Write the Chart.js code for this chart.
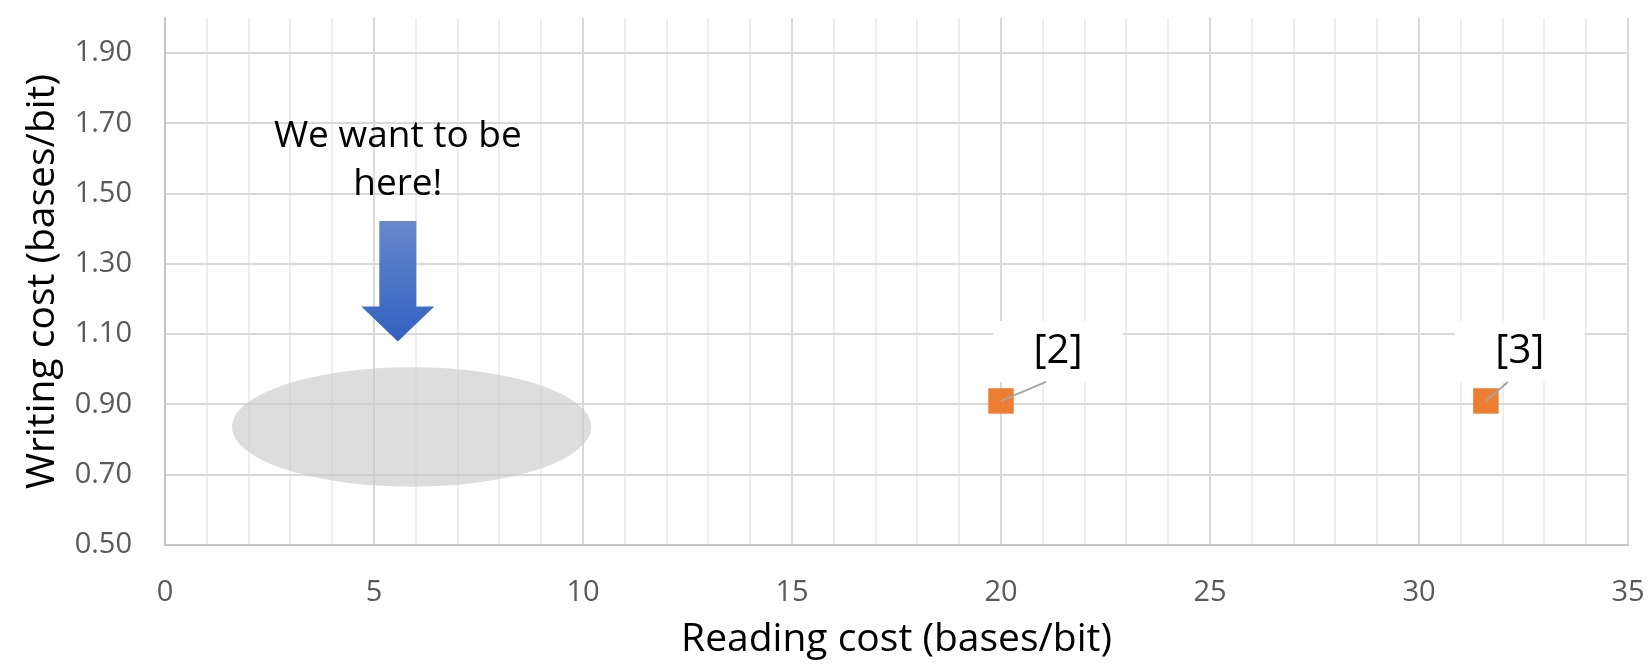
<!DOCTYPE html>
<html>
<head>
<meta charset="utf-8">
<script src="https://cdn.jsdelivr.net/npm/chart.js@4/dist/chart.umd.min.js"></script>
<style>
  body { margin: 0; background: #fff; }
  #wrap { width: 1650px; height: 667px; }
</style>
</head>
<body>
<div id="wrap"><canvas id="costChart" width="1650" height="667"></canvas></div>
<script>
// data
var readingCost = [20, 31.6];
var writingCost = [0.91, 0.91];
var pointLabels = ["[2]", "[3]"];

// axis ranges / ticks
var xRange = [0, 35];
var yRange = [0.5, 2.0];
var yTicks = [0.5, 0.7, 0.9, 1.1, 1.3, 1.5, 1.7, 1.9];

// the "target" annotation (data units)
var targetText = ["We want to be", "here!"];
var targetTextAt = { x: 5.57, y: [1.664, 1.525] };
var targetArrow = { x: 5.57, top: 1.422, headStart: 1.179, tip: 1.079 };
var targetEllipse = { x: 5.9, y: 0.836, rx: 4.3, ry: 0.17 };

var FONT = "'Open Sans', 'Noto Sans', sans-serif";

var annotations = {
  id: "annotations",
  beforeDatasetsDraw: function (chart) {
    var ctx = chart.ctx;
    var xs = chart.scales.x, ys = chart.scales.y;

    // grey ellipse
    var cx = xs.getPixelForValue(targetEllipse.x);
    var cy = ys.getPixelForValue(targetEllipse.y);
    var rx = xs.getPixelForValue(targetEllipse.x + targetEllipse.rx) - cx;
    var ry = cy - ys.getPixelForValue(targetEllipse.y + targetEllipse.ry);
    ctx.save();
    ctx.fillStyle = "rgba(200,200,200,0.62)";
    ctx.beginPath();
    ctx.ellipse(cx, cy, rx, ry, 0, 0, Math.PI * 2);
    ctx.fill();

    // blue arrow
    var ax = xs.getPixelForValue(targetArrow.x);
    var top = ys.getPixelForValue(targetArrow.top);
    var hs = ys.getPixelForValue(targetArrow.headStart);
    var tip = ys.getPixelForValue(targetArrow.tip);
    var grad = ctx.createLinearGradient(0, top, 0, tip);
    grad.addColorStop(0, "#6788cb");
    grad.addColorStop(1, "#3161c0");
    ctx.fillStyle = grad;
    ctx.beginPath();
    ctx.moveTo(ax - 18.5, top);
    ctx.lineTo(ax + 18.5, top);
    ctx.lineTo(ax + 18.5, hs);
    ctx.lineTo(ax + 36.5, hs);
    ctx.lineTo(ax, tip);
    ctx.lineTo(ax - 36.5, hs);
    ctx.lineTo(ax - 18.5, hs);
    ctx.closePath();
    ctx.fill();

    // text
    ctx.fillStyle = "#000";
    ctx.font = "37px " + FONT;
    ctx.textAlign = "center";
    ctx.textBaseline = "middle";
    var tx = xs.getPixelForValue(targetTextAt.x);
    targetText.forEach(function (line, i) {
      ctx.fillText(line, tx, ys.getPixelForValue(targetTextAt.y[i]));
    });
    ctx.restore();
  },
  afterDatasetsDraw: function (chart) {
    var ctx = chart.ctx;
    var meta = chart.getDatasetMeta(0);
    var offsets = [{ dx: 57, dy: -49 }, { dx: 34, dy: -49 }];
    ctx.save();
    meta.data.forEach(function (pt, i) {
      var o = offsets[i];
      var tx = pt.x + o.dx, ty = pt.y + o.dy;
      ctx.fillStyle = "#fff";
      ctx.fillRect(tx - 65, ty - 31, 130, 61);
      ctx.strokeStyle = "#a6a6a6";
      ctx.lineWidth = 2;
      ctx.beginPath();
      ctx.moveTo(pt.x, pt.y);
      ctx.lineTo(tx - 12, ty + 30);
      ctx.stroke();
      ctx.fillStyle = "#000";
      ctx.font = "40px " + FONT;
      ctx.textAlign = "center";
      ctx.textBaseline = "middle";
      ctx.fillText(pointLabels[i], tx, ty);
    });
    ctx.restore();
  }
};

var points = readingCost.map(function (x, i) {
  return { x: x, y: writingCost[i] };
});

new Chart(document.getElementById("costChart"), {
  type: "scatter",
  data: {
    datasets: [{
      label: "cost",
      data: points,
      pointStyle: "rect",
      pointRadius: 18,
      pointHoverRadius: 18,
      backgroundColor: "#ed7d31",
      borderColor: "#ed7d31",
      borderWidth: 0
    }]
  },
  options: {
    responsive: false,
    animation: false,
    events: [],
    layout: { padding: { left: 0, right: 22, top: 8, bottom: 0 } },
    plugins: { legend: { display: false }, tooltip: { enabled: false } },
    scales: {
      x: {
        type: "linear",
        min: xRange[0],
        max: xRange[1],
        afterFit: function (scale) { scale.height = 122; },
        border: { color: "#c4c4c4", width: 2 },
        grid: {
          drawTicks: true,
          tickLength: 30,
          tickColor: "rgba(0,0,0,0)",
          color: function (c) { return c.tick && c.tick.value % 5 === 0 ? "#d9d9d9" : "#eeeeee"; },
          lineWidth: 2
        },
        ticks: {
          stepSize: 1,
          autoSkip: false,
          maxRotation: 0,
          padding: 0,
          color: "#595959",
          font: { family: FONT, size: 29 },
          callback: function (v) { return v % 5 === 0 ? String(v) : ""; }
        },
        title: {
          display: true,
          text: "Reading cost (bases/bit)",
          color: "#000",
          font: { family: FONT, size: 39 },
          padding: { top: 0, bottom: 4 }
        }
      },
      y: {
        type: "linear",
        min: yRange[0],
        max: yRange[1],
        afterFit: function (scale) { scale.width = 165; },
        afterBuildTicks: function (scale) {
          scale.ticks = yTicks.map(function (v) { return { value: v }; });
        },
        border: { color: "#c4c4c4", width: 2 },
        grid: {
          drawTicks: true,
          tickLength: 33,
          tickColor: "rgba(0,0,0,0)",
          color: "#d9d9d9",
          lineWidth: 2
        },
        ticks: {
          padding: 0,
          color: "#595959",
          font: { family: FONT, size: 29, lineHeight: 0.4 },
          callback: function (v) { return v.toFixed(2); }
        },
        title: {
          display: true,
          text: "Writing cost (bases/bit)",
          color: "#000",
          font: { family: FONT, size: 39 },
          padding: { top: 19, bottom: 0 }
        }
      }
    }
  },
  plugins: [annotations]
});
</script>
</body>
</html>
